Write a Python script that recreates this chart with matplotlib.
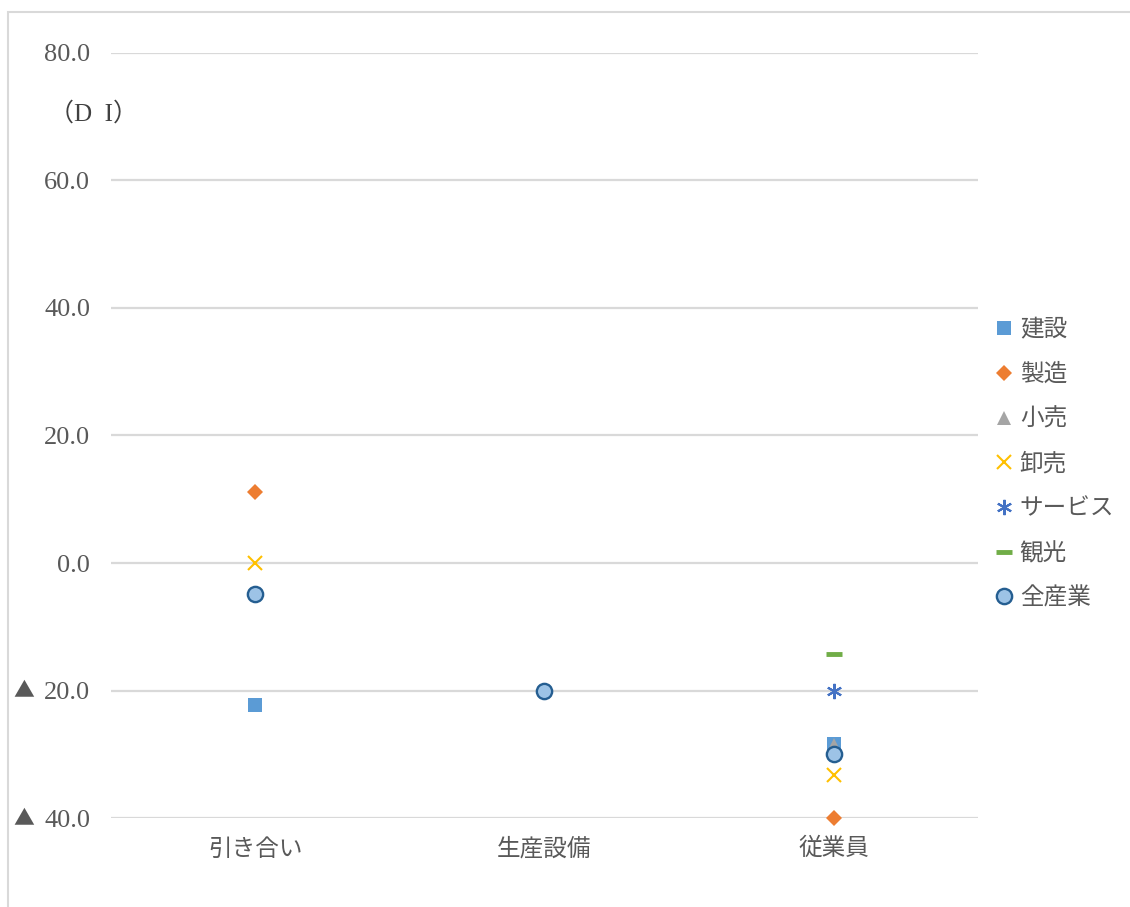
import numpy as np
import matplotlib
matplotlib.use("Agg")
import matplotlib.pyplot as plt
from matplotlib.patches import Rectangle
from matplotlib.transforms import blended_transform_factory

plt.rcParams['font.family'] = ['Noto Sans CJK JP', 'DejaVu Sans']

categories = ["引き合い", "生産設備", "従業員"]
nan = np.nan
kensetsu = [-22.2, nan, -28.4]
seizo = [11.1, nan, -40.0]
kouri = [nan, nan, -28.5]
oroshi = [0.0, nan, -33.3]
service = [nan, nan, -20.0]
kanko = [nan, nan, -14.3]
zensangyo = [-4.8, -20.0, -30.0]

series_names = ["建設", "製造", "小売", "卸売", "サービス", "観光", "全産業"]
series_values = [kensetsu, seizo, kouri, oroshi, service, kanko, zensangyo]
y_ticks = [80, 60, 40, 20, 0, -20, -40]

styles = [
    dict(marker='s', color='#5B9BD5', markersize=10, markeredgewidth=0),
    dict(marker='D', color='#ED7D31', markersize=8, markeredgewidth=0),
    dict(marker='^', color='#A5A5A5', markersize=10, markeredgewidth=0),
    dict(marker='x', color='#FFC000', markersize=10, markeredgewidth=1.5),
    dict(marker=(6, 2, 0), color='#4472C4', markersize=11, markeredgewidth=1.5),
    dict(marker='_', color='#70AD47', markersize=11, markeredgewidth=3.5),
    dict(marker='o', markerfacecolor='#9DC3E6', markeredgecolor='#255E91',
         markersize=11, markeredgewidth=1.7),
]

fig = plt.figure(figsize=(11.3, 9.07), dpi=100)
ax = fig.add_axes([0.0982, 0.0981, 0.7673, 0.8435])

x = np.arange(1, len(categories) + 1)
handles = []
for name, vals, st in zip(series_names, series_values, styles):
    h, = ax.plot(x, vals, linestyle='none', label=name, zorder=3, clip_on=False, **st)
    handles.append(h)

serif = ['Liberation Serif', 'Noto Sans CJK JP']
ax.set_xlim(0.5, 3.5)
ax.set_ylim(-40, 80)
ax.set_yticks(y_ticks)
# negative values are written with a leading ▲ instead of a minus sign
ax.set_yticklabels([f"{abs(v):.1f}" for v in y_ticks], fontsize=19, color='#595959')
for t in ax.get_yticklabels():
    t.set_fontfamily(serif)
trans = blended_transform_factory(ax.transAxes, ax.transData)
for v in y_ticks:
    if v < 0:
        ax.text(-0.100, v, "▲", transform=trans, fontsize=15, color='#595959',
                ha='center', va='center', family=['Noto Sans CJK JP'])
ax.set_xticks(x)
ax.set_xticklabels(categories, fontsize=17, color='#595959')
ax.tick_params(length=0, pad=15, axis='y')
ax.tick_params(length=0, pad=14, axis='x')
ax.grid(axis='y', color='#D9D9D9', linewidth=1.6)
ax.set_axisbelow(True)
for s in ax.spines.values():
    s.set_visible(False)

fig.text(0.043, 0.875, "（D  I）", fontsize=18, color='#404040', va='center',
         family=serif)

fig.legend(handles=handles, loc='upper left', bbox_to_anchor=(0.8805, 0.649),
           frameon=False, fontsize=17, labelspacing=0.92, handlelength=0.8,
           handletextpad=0.25, labelcolor='#595959', borderaxespad=0, borderpad=0)

fig.patches.append(Rectangle((0.007, -0.01), 1.2, 0.997, transform=fig.transFigure,
                             fill=False, edgecolor='#D9D9D9', linewidth=1.5))

fig.savefig("out.png", dpi=100)
